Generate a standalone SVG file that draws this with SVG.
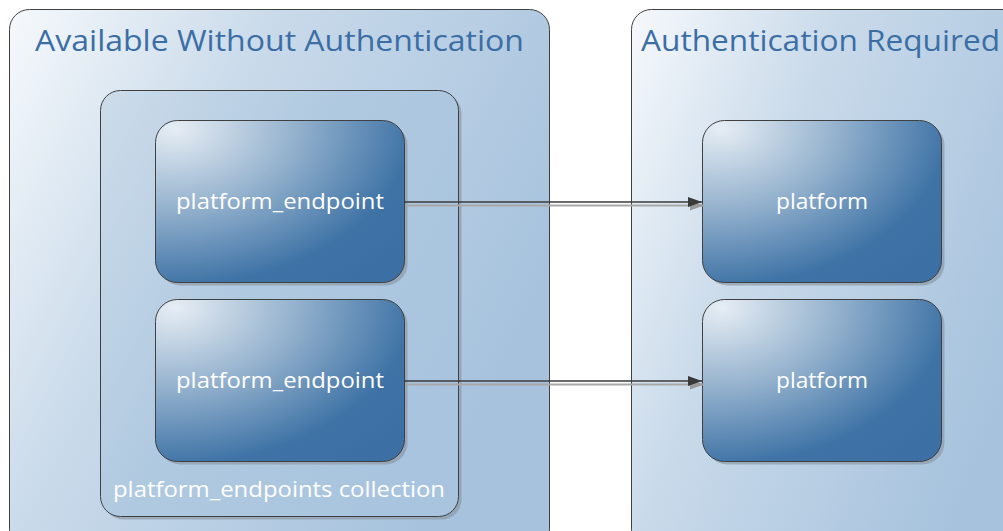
<svg xmlns="http://www.w3.org/2000/svg" width="1003" height="531" viewBox="0 0 1003 531">
<defs>
<linearGradient id="gCont" x1="0" y1="0" x2="1" y2="0.5">
<stop offset="0" stop-color="#f6f9fc"/>
<stop offset="0.4" stop-color="#c9daea"/>
<stop offset="1" stop-color="#a6c2dd"/>
</linearGradient>
<linearGradient id="gColl" x1="0" y1="0" x2="1" y2="0.6">
<stop offset="0" stop-color="#cddcea"/>
<stop offset="0.5" stop-color="#afc9e0"/>
<stop offset="1" stop-color="#a9c4de"/>
</linearGradient>
<radialGradient id="gNode" cx="0" cy="0" r="1.3" fx="0.08" fy="0.05">
<stop offset="0" stop-color="#e6edf4"/>
<stop offset="0.4" stop-color="#93b1cd"/>
<stop offset="0.78" stop-color="#3f73a6"/>
<stop offset="1" stop-color="#3c70a4"/>
</radialGradient>
<marker id="ah" viewBox="0 0 14 10" refX="14" refY="5" markerWidth="14" markerHeight="10" markerUnits="userSpaceOnUse" orient="auto">
<path d="M0,0 L14,5 L0,10 Z" fill="#3a3a3a"/>
</marker>
<marker id="ahs" viewBox="0 0 14 10" refX="14" refY="5" markerWidth="14" markerHeight="10" markerUnits="userSpaceOnUse" orient="auto">
<path d="M0,0 L14,5 L0,10 Z" fill="#9a9a9a"/>
</marker>
</defs>
<style>
.cont{fill:url(#gCont);stroke:#404040;stroke-width:1}
.coll{fill:url(#gColl);stroke:#404040;stroke-width:1}
.node{fill:url(#gNode);stroke:#404040;stroke-width:1}
.shadow{fill:#8c9aa8;opacity:0.7}
.title{font-family:"Open Sans","Liberation Sans",sans-serif;font-size:30px;fill:#3b6ea5}
.lbl{font-family:"Open Sans","Liberation Sans",sans-serif;font-size:21px;fill:#ffffff;text-anchor:middle}
.edge{stroke:#3a3a3a;stroke-width:1.5;fill:none}
.edgeS{stroke:#a8a8a8;stroke-width:2;fill:none}
</style>
<g id="container-left">
<rect class="cont" x="9.5" y="9.5" width="540" height="540" rx="20"/>
<text class="title" x="35" y="51" textLength="489" lengthAdjust="spacingAndGlyphs">Available Without Authentication</text>
</g>
<g id="container-right">
<rect class="cont" x="631.5" y="9.5" width="420" height="540" rx="20"/>
<text class="title" x="641" y="51" textLength="359" lengthAdjust="spacingAndGlyphs">Authentication Required</text>
</g>
<g id="collection">
<rect class="shadow" x="103.5" y="93.5" width="358" height="426" rx="20"/>
<rect class="coll" x="100.5" y="90.5" width="358" height="426" rx="20"/>
<text class="lbl" x="279" y="497" textLength="332" lengthAdjust="spacingAndGlyphs">platform_endpoints collection</text>
</g>
<g id="node-endpoint-1">
<rect class="shadow" x="158.5" y="123.5" width="249" height="162" rx="22"/>
<rect class="node" x="155.5" y="120.5" width="249" height="162" rx="22"/>
<text class="lbl" x="280" y="209" textLength="208" lengthAdjust="spacingAndGlyphs">platform_endpoint</text>
</g>
<g id="node-endpoint-2">
<rect class="shadow" x="158.5" y="302.5" width="249" height="162" rx="22"/>
<rect class="node" x="155.5" y="299.5" width="249" height="162" rx="22"/>
<text class="lbl" x="280" y="388" textLength="208" lengthAdjust="spacingAndGlyphs">platform_endpoint</text>
</g>
<g id="node-platform-1">
<rect class="shadow" x="705.5" y="123.5" width="239" height="162" rx="22"/>
<rect class="node" x="702.5" y="120.5" width="239" height="162" rx="22"/>
<text class="lbl" x="822" y="209" textLength="92" lengthAdjust="spacingAndGlyphs">platform</text>
</g>
<g id="node-platform-2">
<rect class="shadow" x="705.5" y="302.5" width="239" height="162" rx="22"/>
<rect class="node" x="702.5" y="299.5" width="239" height="162" rx="22"/>
<text class="lbl" x="822" y="388" textLength="92" lengthAdjust="spacingAndGlyphs">platform</text>
</g>
<g id="connectors">
<line class="edgeS" x1="407" y1="205.5" x2="704" y2="205.5" marker-end="url(#ahs)"/>
<line class="edge" x1="404" y1="202" x2="702" y2="202" marker-end="url(#ah)"/>
<line class="edgeS" x1="407" y1="384.5" x2="704" y2="384.5" marker-end="url(#ahs)"/>
<line class="edge" x1="404" y1="381" x2="702" y2="381" marker-end="url(#ah)"/>
</g>
</svg>
